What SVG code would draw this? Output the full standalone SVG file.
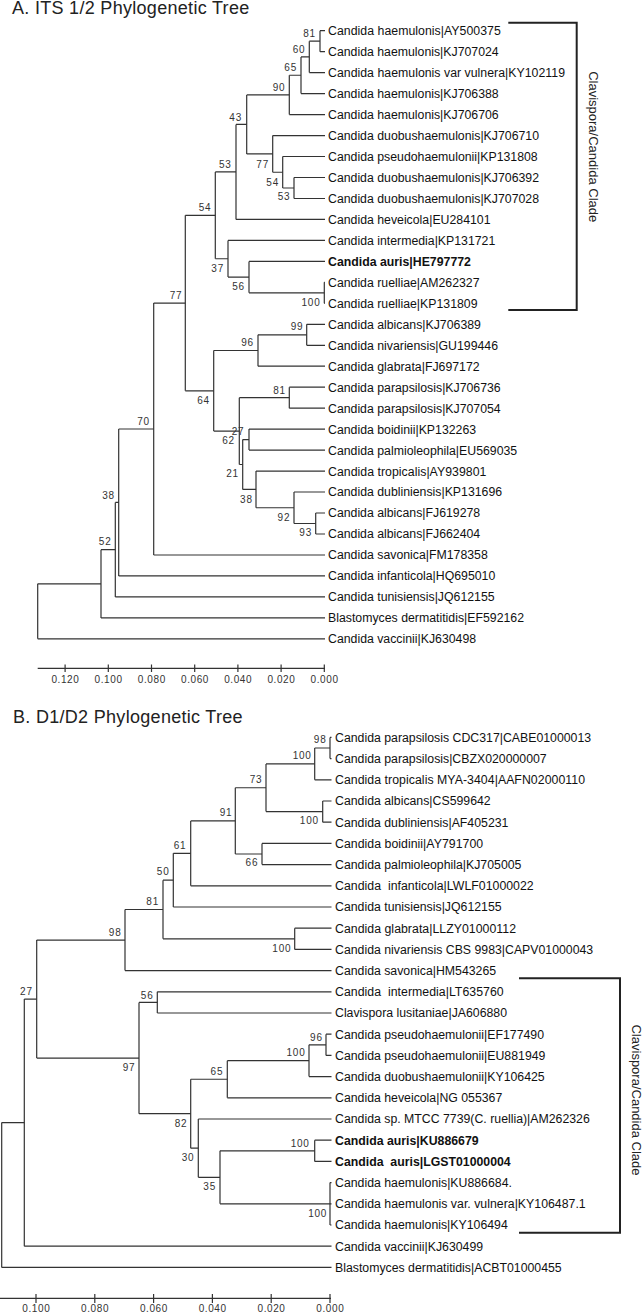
<svg xmlns="http://www.w3.org/2000/svg" width="642" height="1313" viewBox="0 0 642 1313">
<style>
text{font-family:"Liberation Sans",Arial,sans-serif}
.ttl{font-size:18px;letter-spacing:0.3px;fill:#222}
.lf{font-size:12.3px;fill:#111}
.b{font-weight:bold}
.pre{white-space:pre}
.bs{font-size:10px;letter-spacing:0.8px;fill:#333;text-anchor:middle}
.ax{font-size:10px;letter-spacing:0.6px;fill:#333;text-anchor:middle}
.br{fill:none;stroke:#333;stroke-width:1.2}
.axl{fill:none;stroke:#333;stroke-width:1.2}
.clb{fill:none;stroke:#222;stroke-width:2}
.clt{font-size:13px;fill:#222;text-anchor:middle}
</style>
<rect width="642" height="1313" fill="#fff"/>
<g id="title-a"><text class="ttl" x="12" y="14">A. ITS 1/2 Phylogenetic Tree</text></g>
<g id="title-b"><text class="ttl" x="13" y="723">B. D1/D2 Phylogenetic Tree</text></g>

<g id="connectors">
<path class="br" d="M320 30.7V51.7M309.3 41.2V72.6M301 56.9V93.6M289.3 75.25V114.6M246.7 94.9V153.9M272.7 135.6V172.25M282.7 156.5V188M294 177.5V198.5M236 124.4V219.4M215.3 171.9V258.75M228 240.4V277.1M249 261.4V292.8M324.3 282.3V303.3M185.3 215.3V390.8M213.7 350.5V431.1M258 334.8V366.2M306.7 324.3V345.3M239.3 397.7V464.5M289.3 387.2V408.2M242.7 439.6V489.4M249 429.1V450.1M256 471.1V507.75M294 492V523.5M315.7 513V534M153.7 303.05V555M118.7 429V575.9M115.3 502.45V596.9M101 549.7V617.9M37.7 583.8V638.8"/>
<path class="br" d="M320 30.7H325M320 51.7H325M309.3 72.6H325M301 93.6H325M289.3 114.6H325M272.7 135.6H325M282.7 156.5H325M294 177.5H325M294 198.5H325M236 219.4H325M228 240.4H325M249 261.4H325M324.3 282.3H325M324.3 303.3H325M306.7 324.3H325M306.7 345.3H325M258 366.2H325M289.3 387.2H325M289.3 408.2H325M249 429.1H325M249 450.1H325M256 471.1H325M294 492H325M315.7 513H325M315.7 534H325M153.7 555H325M118.7 575.9H325M115.3 596.9H325M101 617.9H325M37.7 638.8H325"/>
<path class="br" d="M309.3 41.2H320M301 56.9H309.3M289.3 75.25H301M246.7 94.9H289.3M282.7 188H294M272.7 172.25H282.7M246.7 153.9H272.7M236 124.4H246.7M215.3 171.9H236M249 292.8H324.3M228 277.1H249M215.3 258.75H228M185.3 215.3H215.3M258 334.8H306.7M213.7 350.5H258M239.3 397.7H289.3M242.7 439.6H249M294 523.5H315.7M256 507.75H294M242.7 489.4H256M239.3 464.5H242.7M213.7 431.1H239.3M185.3 390.8H213.7M153.7 303.05H185.3M118.7 429H153.7M115.3 502.45H118.7M101 549.7H115.3M37.7 583.8H101"/>
<path class="br" d="M330 737.4V758.6M314.7 748V779.8M322.7 801V822.2M266 763.9V811.6M262 843.4V864.6M235.3 787.75V854M190.7 820.9V885.8M173.3 853.35V907M294.7 928.2V949.4M163 880.2V938.8M125 909.5V970.6M157.3 991.8V1013M326 1034.2V1055.4M309 1044.8V1076.6M227.3 1060.7V1097.8M314.7 1140.2V1161.4M330 1182.6V1225M220 1150.8V1203.8M198.3 1119V1177.3M190.7 1079.25V1148.15M139 1002.4V1113.7M36.7 940.05V1058.05M24.3 999.05V1246.2M1.7 1122.6V1267.4"/>
<path class="br" d="M330 737.4H331.5M330 758.6H331.5M314.7 779.8H331.5M322.7 801H331.5M322.7 822.2H331.5M262 843.4H331.5M262 864.6H331.5M190.7 885.8H331.5M173.3 907H331.5M294.7 928.2H331.5M294.7 949.4H331.5M125 970.6H331.5M157.3 991.8H331.5M157.3 1013H331.5M326 1034.2H331.5M326 1055.4H331.5M309 1076.6H331.5M227.3 1097.8H331.5M198.3 1119H331.5M314.7 1140.2H331.5M314.7 1161.4H331.5M330 1182.6H331.5M330 1203.8H331.5M330 1225H331.5M24.3 1246.2H331.5M1.7 1267.4H331.5"/>
<path class="br" d="M314.7 748H330M266 763.9H314.7M266 811.6H322.7M235.3 787.75H266M235.3 854H262M190.7 820.9H235.3M173.3 853.35H190.7M163 880.2H173.3M163 938.8H294.7M125 909.5H163M36.7 940.05H125M139 1002.4H157.3M309 1044.8H326M227.3 1060.7H309M190.7 1079.25H227.3M220 1150.8H314.7M220 1203.8H330M198.3 1177.3H220M190.7 1148.15H198.3M139 1113.7H190.7M36.7 1058.05H139M24.3 999.05H36.7M1.7 1122.6H24.3"/>
</g>

<g id="a-leaves">
<g id="a-l0"><text class="lf" x="328" y="35.1" textLength="172.75">Candida haemulonis|AY500375</text></g>
<g id="a-l1"><text class="lf" x="328" y="56.1" textLength="170.7">Candida haemulonis|KJ707024</text></g>
<g id="a-l2"><text class="lf" x="328" y="77" textLength="237">Candida haemulonis var vulnera|KY102119</text></g>
<g id="a-l3"><text class="lf" x="328" y="98" textLength="170.7">Candida haemulonis|KJ706388</text></g>
<g id="a-l4"><text class="lf" x="328" y="119" textLength="170.7">Candida haemulonis|KJ706706</text></g>
<g id="a-l5"><text class="lf" x="328" y="140" textLength="211">Candida duobushaemulonis|KJ706710</text></g>
<g id="a-l6"><text class="lf" x="328" y="160.9" textLength="209.7">Candida pseudohaemulonii|KP131808</text></g>
<g id="a-l7"><text class="lf" x="328" y="181.9" textLength="211">Candida duobushaemulonis|KJ706392</text></g>
<g id="a-l8"><text class="lf" x="328" y="202.9" textLength="211">Candida duobushaemulonis|KJ707028</text></g>
<g id="a-l9"><text class="lf" x="328" y="223.8" textLength="162.5">Candida heveicola|EU284101</text></g>
<g id="a-l10"><text class="lf" x="328" y="244.8" textLength="167.3">Candida intermedia|KP131721</text></g>
<g id="a-l11"><text class="lf b" x="328" y="265.8" textLength="142.9">Candida auris|HE797772</text></g>
<g id="a-l12"><text class="lf" x="328" y="286.7" textLength="151.5">Candida ruelliae|AM262327</text></g>
<g id="a-l13"><text class="lf" x="328" y="307.7" textLength="149.5">Candida ruelliae|KP131809</text></g>
<g id="a-l14"><text class="lf" x="328" y="328.7" textLength="152.9">Candida albicans|KJ706389</text></g>
<g id="a-l15"><text class="lf" x="328" y="349.7" textLength="170">Candida nivariensis|GU199446</text></g>
<g id="a-l16"><text class="lf" x="328" y="370.6" textLength="151.6">Candida glabrata|FJ697172</text></g>
<g id="a-l17"><text class="lf" x="328" y="391.6" textLength="172.7">Candida parapsilosis|KJ706736</text></g>
<g id="a-l18"><text class="lf" x="328" y="412.6" textLength="172.7">Candida parapsilosis|KJ707054</text></g>
<g id="a-l19"><text class="lf" x="328" y="433.5" textLength="148.1">Candida boidinii|KP132263</text></g>
<g id="a-l20"><text class="lf" x="328" y="454.5" textLength="189.2">Candida palmioleophila|EU569035</text></g>
<g id="a-l21"><text class="lf" x="328" y="475.5" textLength="158.4">Candida tropicalis|AY939801</text></g>
<g id="a-l22"><text class="lf" x="328" y="496.4" textLength="174.1">Candida dubliniensis|KP131696</text></g>
<g id="a-l23"><text class="lf" x="328" y="517.4" textLength="152.2">Candida albicans|FJ619278</text></g>
<g id="a-l24"><text class="lf" x="328" y="538.4" textLength="152.2">Candida albicans|FJ662404</text></g>
<g id="a-l25"><text class="lf" x="328" y="559.4" textLength="159.8">Candida savonica|FM178358</text></g>
<g id="a-l26"><text class="lf" x="328" y="580.3" textLength="167.3">Candida infanticola|HQ695010</text></g>
<g id="a-l27"><text class="lf" x="328" y="601.3" textLength="166.6">Candida tunisiensis|JQ612155</text></g>
<g id="a-l28"><text class="lf" x="328" y="622.3" textLength="196">Blastomyces dermatitidis|EF592162</text></g>
<g id="a-l29"><text class="lf" x="328" y="643.2" textLength="148.1">Candida vaccinii|KJ630498</text></g>
</g>

<g id="a-support">
<g id="a-n81"><text class="bs" x="309.5" y="36.9">81</text></g>
<g id="a-n60"><text class="bs" x="299" y="52.6">60</text></g>
<g id="a-n65"><text class="bs" x="290.7" y="70.9">65</text></g>
<g id="a-n90"><text class="bs" x="279" y="90.9">90</text></g>
<g id="a-n43"><text class="bs" x="235.7" y="120.9">43</text></g>
<g id="a-n77i"><text class="bs" x="262.7" y="167.6">77</text></g>
<g id="a-n54i"><text class="bs" x="272.7" y="185.6">54</text></g>
<g id="a-n53i"><text class="bs" x="284" y="200.3">53</text></g>
<g id="a-n53o"><text class="bs" x="225.3" y="167.6">53</text></g>
<g id="a-n54o"><text class="bs" x="205" y="210.9">54</text></g>
<g id="a-n37"><text class="bs" x="217.7" y="271.9">37</text></g>
<g id="a-n56"><text class="bs" x="238.5" y="290.3">56</text></g>
<g id="a-n100"><text class="bs" x="311" y="305.9">100</text></g>
<g id="a-n77o"><text class="bs" x="176" y="298.6">77</text></g>
<g id="a-n99"><text class="bs" x="297" y="330.3">99</text></g>
<g id="a-n96"><text class="bs" x="247.5" y="346.3">96</text></g>
<g id="a-n64"><text class="bs" x="203.5" y="404.3">64</text></g>
<g id="a-n81b"><text class="bs" x="279.5" y="393.9">81</text></g>
<g id="a-n27"><text class="bs" x="238" y="435.3">27</text></g>
<g id="a-n62"><text class="bs" x="228.6" y="444">62</text></g>
<g id="a-n21"><text class="bs" x="232.5" y="477.4">21</text></g>
<g id="a-n38i"><text class="bs" x="246.4" y="502.9">38</text></g>
<g id="a-n92"><text class="bs" x="283.9" y="520.6">92</text></g>
<g id="a-n93"><text class="bs" x="305.7" y="535.9">93</text></g>
<g id="a-n70"><text class="bs" x="143.5" y="424.6">70</text></g>
<g id="a-n38o"><text class="bs" x="108.5" y="498.6">38</text></g>
<g id="a-n52"><text class="bs" x="105.2" y="544.9">52</text></g>
</g>

<g id="a-axis">
<path class="axl" d="M37.7 668.3H325M65.1 664.5V672M108.3 664.5V672M151.5 664.5V672M194.7 664.5V672M237.9 664.5V672M281.1 664.5V672M324.3 664.5V672"/>
<text class="ax" x="65.4" y="682.6">0.120</text>
<text class="ax" x="108.6" y="682.6">0.100</text>
<text class="ax" x="151.8" y="682.6">0.080</text>
<text class="ax" x="195" y="682.6">0.060</text>
<text class="ax" x="238.2" y="682.6">0.040</text>
<text class="ax" x="281.4" y="682.6">0.020</text>
<text class="ax" x="324.6" y="682.6">0.000</text>
</g>

<g id="a-clade">
<path class="clb" d="M508.3 22.7H576.7V310H508.3"/>
<text class="clt" transform="translate(589,146.7) rotate(90)">Clavispora/Candida Clade</text>
</g>

<g id="b-leaves">
<g id="b-l0"><text class="lf" x="335" y="741.8" textLength="256.1">Candida parapsilosis CDC317|CABE01000013</text></g>
<g id="b-l1"><text class="lf" x="335" y="763" textLength="211.7">Candida parapsilosis|CBZX020000007</text></g>
<g id="b-l2"><text class="lf" x="335" y="784.2" textLength="250">Candida tropicalis MYA-3404|AAFN02000110</text></g>
<g id="b-l3"><text class="lf" x="335" y="805.4" textLength="155.7">Candida albicans|CS599642</text></g>
<g id="b-l4"><text class="lf" x="335" y="826.6" textLength="173.4">Candida dubliniensis|AF405231</text></g>
<g id="b-l5"><text class="lf" x="335" y="847.8" textLength="148.1">Candida boidinii|AY791700</text></g>
<g id="b-l6"><text class="lf" x="335" y="869" textLength="186.4">Candida palmioleophila|KJ705005</text></g>
<g id="b-l7"><text class="lf pre" x="335" y="890.2" textLength="198.7">Candida  infanticola|LWLF01000022</text></g>
<g id="b-l8"><text class="lf" x="335" y="911.4" textLength="166.6">Candida tunisiensis|JQ612155</text></g>
<g id="b-l9"><text class="lf" x="335" y="932.6" textLength="181">Candida glabrata|LLZY01000112</text></g>
<g id="b-l10"><text class="lf" x="335" y="953.8" textLength="258.2">Candida nivariensis CBS 9983|CAPV01000043</text></g>
<g id="b-l11"><text class="lf" x="335" y="975" textLength="161.1">Candida savonica|HM543265</text></g>
<g id="b-l12"><text class="lf pre" x="335" y="996.2" textLength="168.6">Candida  intermedia|LT635760</text></g>
<g id="b-l13"><text class="lf" x="335" y="1017.4" textLength="172">Clavispora lusitaniae|JA606880</text></g>
<g id="b-l14"><text class="lf" x="335" y="1038.6" textLength="209">Candida pseudohaemulonii|EF177490</text></g>
<g id="b-l15"><text class="lf" x="335" y="1059.8" textLength="210.4">Candida pseudohaemulonii|EU881949</text></g>
<g id="b-l16"><text class="lf" x="335" y="1081" textLength="209.7">Candida duobushaemulonii|KY106425</text></g>
<g id="b-l17"><text class="lf" x="335" y="1102.2" textLength="167.3">Candida heveicola|NG 055367</text></g>
<g id="b-l18"><text class="lf" x="335" y="1123.4" textLength="254.8">Candida sp. MTCC 7739(C. ruellia)|AM262326</text></g>
<g id="b-l19"><text class="lf b" x="335" y="1144.6" textLength="143.6">Candida auris|KU886679</text></g>
<g id="b-l20"><text class="lf b pre" x="335" y="1165.8" textLength="175.7">Candida  auris|LGST01000004</text></g>
<g id="b-l21"><text class="lf" x="335" y="1187" textLength="176.9">Candida haemulonis|KU886684.</text></g>
<g id="b-l22"><text class="lf" x="335" y="1208.2" textLength="250.7">Candida haemulonis var. vulnera|KY106487.1</text></g>
<g id="b-l23"><text class="lf" x="335" y="1229.4" textLength="172.75">Candida haemulonis|KY106494</text></g>
<g id="b-l24"><text class="lf" x="335" y="1250.6" textLength="148.1">Candida vaccinii|KJ630499</text></g>
<g id="b-l25"><text class="lf" x="335" y="1271.8" textLength="226.7">Blastomyces dermatitidis|ACBT01000455</text></g>
</g>

<g id="b-support">
<g id="b-n98a"><text class="bs" x="320.2" y="743.1">98</text></g>
<g id="b-n100a"><text class="bs" x="302.2" y="759.3">100</text></g>
<g id="b-n100b"><text class="bs" x="309.4" y="824.3">100</text></g>
<g id="b-n73"><text class="bs" x="256" y="782.9">73</text></g>
<g id="b-n66"><text class="bs" x="251.9" y="866.3">66</text></g>
<g id="b-n91"><text class="bs" x="226" y="816.3">91</text></g>
<g id="b-n61"><text class="bs" x="180" y="848.6">61</text></g>
<g id="b-n50"><text class="bs" x="163.2" y="875.3">50</text></g>
<g id="b-n100c"><text class="bs" x="281.9" y="951.9">100</text></g>
<g id="b-n81"><text class="bs" x="152.7" y="905.3">81</text></g>
<g id="b-n98b"><text class="bs" x="115.2" y="935.6">98</text></g>
<g id="b-n27"><text class="bs" x="26.4" y="994.6">27</text></g>
<g id="b-n56"><text class="bs" x="147.2" y="998.6">56</text></g>
<g id="b-n97"><text class="bs" x="129" y="1071.3">97</text></g>
<g id="b-n96"><text class="bs" x="316.4" y="1040.9">96</text></g>
<g id="b-n100d"><text class="bs" x="296" y="1056.3">100</text></g>
<g id="b-n65"><text class="bs" x="216.9" y="1075.3">65</text></g>
<g id="b-n82"><text class="bs" x="181" y="1126.9">82</text></g>
<g id="b-n30"><text class="bs" x="188" y="1161.3">30</text></g>
<g id="b-n35"><text class="bs" x="209.7" y="1190.3">35</text></g>
<g id="b-n100e"><text class="bs" x="300.2" y="1147.1">100</text></g>
<g id="b-n100f"><text class="bs" x="317.7" y="1216.9">100</text></g>
</g>

<g id="b-axis">
<path class="axl" d="M0 1298.3H331M36 1294V1303M94.8 1294V1303M153.6 1294V1303M212.4 1294V1303M271.2 1294V1303M330 1294V1303"/>
<text class="ax" x="36.3" y="1311.9">0.100</text>
<text class="ax" x="95.1" y="1311.9">0.080</text>
<text class="ax" x="153.9" y="1311.9">0.060</text>
<text class="ax" x="212.7" y="1311.9">0.040</text>
<text class="ax" x="271.5" y="1311.9">0.020</text>
<text class="ax" x="330.3" y="1311.9">0.000</text>
</g>

<g id="b-clade">
<path class="clb" d="M519 978.3H620V1232.7H519"/>
<text class="clt" transform="translate(631.5,1100) rotate(90)">Clavispora/Candida Clade</text>
</g>
</svg>
